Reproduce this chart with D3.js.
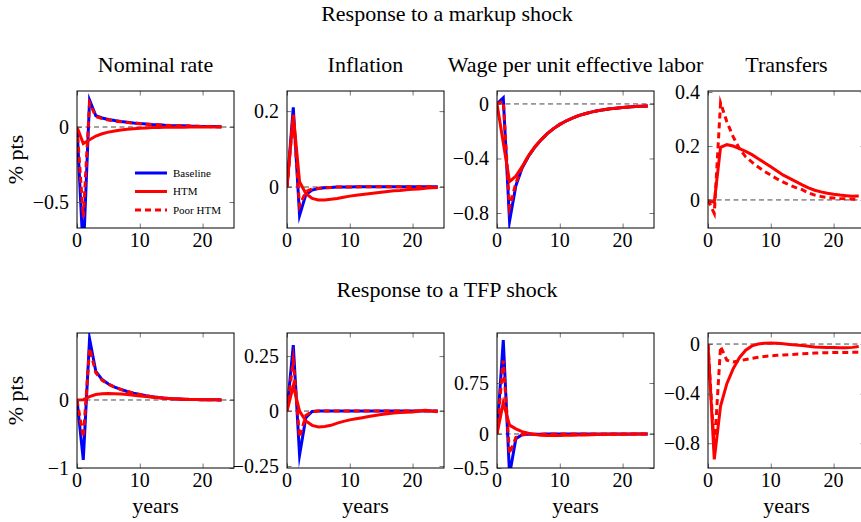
<!DOCTYPE html>
<html>
<head>
<meta charset="utf-8">
<script src="https://cdn.jsdelivr.net/npm/d3@7"></script>
<style>
  html, body { margin: 0; padding: 0; background: #fff; }
  svg { display: block; }
  text { font-family: "Liberation Serif", "Times New Roman", serif; fill: #000; }
</style>
</head>
<body>
<svg id="chart" width="861" height="522"></svg>
<script>
// ---------------- DATA ----------------
const periods23 = [0,1,2,3,4,5,6,7,8,9,10,11,12,13,14,15,16,17,18,19,20,21,22,23];
const periods24 = [0,1,2,3,4,5,6,7,8,9,10,11,12,13,14,15,16,17,18,19,20,21,22,23,24];

const seriesNames = ["Baseline", "HTM", "Poor HTM"];
const rowTitles = ["Response to a markup shock", "Response to a TFP shock"];
const panelTitles = ["Nominal rate", "Inflation", "Wage per unit effective labor", "Transfers"];

// Markup shock
const markupNominalBaseline = [0,-0.85,0.18,0.075,0.06,0.05,0.043,0.037,0.032,0.027,0.023,0.02,0.017,0.015,0.012,0.01,0.009,0.008,0.006,0.005,0.004,0.003,0.003,0.002];
const markupNominalHTM      = [0,-0.11,-0.085,-0.06,-0.045,-0.034,-0.026,-0.02,-0.015,-0.011,-0.008,-0.006,-0.004,-0.003,-0.002,-0.0015,-0.001,-0.001,0,0,0,0,0,0];
const markupNominalPoor     = [0,-0.6,0.16,0.07,0.056,0.047,0.04,0.035,0.03,0.026,0.022,0.019,0.016,0.014,0.012,0.01,0.008,0.007,0.006,0.005,0.004,0.003,0.002,0.002];

const markupInflBaseline = [0,0.21,-0.075,-0.02,-0.008,-0.004,-0.002,-0.001,0,0,0,0.001,0.001,0.001,0.001,0.001,0.001,0.001,0.001,0.001,0.001,0.001,0.001,0.001,0.001];
const markupInflHTM      = [0,0.19,0.014,-0.017,-0.03,-0.034,-0.034,-0.032,-0.03,-0.027,-0.024,-0.022,-0.02,-0.018,-0.016,-0.014,-0.012,-0.01,-0.009,-0.007,-0.006,-0.005,-0.003,-0.002,-0.001];
const markupInflPoor     = [0,0.19,-0.05,-0.012,-0.005,-0.003,-0.002,-0.001,0,0,0,0,0.001,0.001,0.001,0.001,0.001,0.001,0.001,0.001,0.001,0.001,0.001,0.001,0];

const markupWageBaseline = [0,0.045,-0.86,-0.6,-0.47,-0.385,-0.318,-0.264,-0.218,-0.181,-0.15,-0.125,-0.104,-0.086,-0.072,-0.06,-0.05,-0.042,-0.036,-0.031,-0.026,-0.022,-0.019,-0.017,-0.015];
const markupWageHTM      = [0,-0.285,-0.57,-0.53,-0.46,-0.38,-0.316,-0.263,-0.218,-0.181,-0.15,-0.125,-0.104,-0.086,-0.072,-0.06,-0.05,-0.042,-0.036,-0.031,-0.026,-0.022,-0.019,-0.017,-0.015];
const markupWagePoor     = [0,0.02,-0.76,-0.58,-0.465,-0.383,-0.317,-0.264,-0.218,-0.181,-0.15,-0.125,-0.104,-0.086,-0.072,-0.06,-0.05,-0.042,-0.036,-0.031,-0.026,-0.022,-0.019,-0.017,-0.015];

const markupTransHTM  = [-0.005,-0.008,0.195,0.205,0.2,0.19,0.18,0.168,0.153,0.138,0.123,0.107,0.092,0.08,0.068,0.056,0.045,0.036,0.03,0.025,0.021,0.018,0.016,0.014,0.015];
const markupTransPoor = [0,-0.05,0.36,0.29,0.235,0.19,0.16,0.14,0.122,0.106,0.092,0.078,0.066,0.055,0.046,0.038,0.026,0.018,0.013,0.009,0.007,0.005,0.004,0.003,0.002];

// TFP shock
const tfpNominalBaseline = [0,-0.88,0.9,0.42,0.3,0.235,0.19,0.155,0.125,0.1,0.08,0.062,0.048,0.036,0.027,0.02,0.015,0.011,0.008,0.006,0.004,0.003,0.002,0.001];
const tfpNominalHTM      = [0,0.005,0.05,0.08,0.092,0.095,0.093,0.088,0.08,0.07,0.06,0.05,0.041,0.033,0.026,0.02,0.015,0.011,0.008,0.006,0.004,0.003,0.002,0.001];
const tfpNominalPoor     = [0,-0.55,0.76,0.4,0.29,0.23,0.187,0.153,0.124,0.1,0.08,0.062,0.048,0.036,0.027,0.02,0.015,0.011,0.008,0.006,0.004,0.003,0.002,0.001];

const tfpInflBaseline = [0,0.3,-0.2,-0.03,-0.002,0,0,0,0,0,0,0,0,0,0,0,0,0,0,0,0,0,0,0,0];
const tfpInflHTM      = [0,0.115,0,-0.045,-0.065,-0.072,-0.07,-0.065,-0.055,-0.047,-0.04,-0.035,-0.03,-0.025,-0.02,-0.016,-0.012,-0.009,-0.007,-0.005,-0.004,0,0.004,0,-0.003];
const tfpInflPoor     = [0,0.23,-0.12,-0.02,-0.002,0,0,0,0,0,0,0,0,0,0,0,0,0,0,0,0,0,0,0,0];

const tfpWageBaseline = [0,1.38,-0.6,-0.07,-0.012,-0.005,-0.003,-0.002,-0.001,0,0,0,0,0,0,0,0,0,0,0,0,0,0,0,0];
const tfpWageHTM      = [0,0.46,0.13,0.075,0.035,0.01,-0.008,-0.018,-0.022,-0.023,-0.022,-0.02,-0.018,-0.016,-0.013,-0.011,-0.009,-0.007,-0.005,-0.004,-0.003,-0.002,-0.001,-0.001,0];
const tfpWagePoor     = [0,1.08,-0.29,-0.05,-0.01,-0.004,-0.003,-0.002,-0.001,0,0,0,0,0,0,0,0,0,0,0,0,0,0,0,0];

const tfpTransHTM  = [0,-0.93,-0.5,-0.32,-0.2,-0.11,-0.05,-0.015,0,0.006,0.008,0.006,0.002,-0.003,-0.007,-0.012,-0.018,-0.024,-0.026,-0.027,-0.028,-0.029,-0.03,-0.027,-0.02];
const tfpTransPoor = [0,-0.85,-0.02,-0.13,-0.145,-0.135,-0.125,-0.115,-0.107,-0.1,-0.095,-0.091,-0.088,-0.085,-0.082,-0.079,-0.076,-0.073,-0.071,-0.07,-0.069,-0.068,-0.068,-0.067,-0.067];

// Axis settings (domains and tick values)
const xTicks = [0, 10, 20];
const yTicks = [[0,-0.5],[0,0.2],[0,-0.4,-0.8],[0,0.2,0.4],[0,-1],[-0.25,0,0.25],[-0.5,0,0.75],[0,-0.4,-0.8]];
const yDomains = [[-0.673,0.24],[-0.108,0.253],[-0.91,0.095],[-0.104,0.404],[-1,0.985],[-0.259,0.355],[-0.5,1.485],[-1,0.089]];
const yTickLabels = [["0","−0.5"],["0","0.2"],["0","−0.4","−0.8"],["0","0.2","0.4"],["0","−1"],["−0.25","0","0.25"],["−0.5","0","0.75"],["0","−0.4","−0.8"]];

// ---------------- LAYOUT ----------------
const svg = d3.select("#chart");
const colX = [77, 287, 497, 708];
const pw = 157;
const rowY = [91, 333];
const rowH = [137, 135];
const colors = { Baseline: "#0000ff", HTM: "#ff0000", "Poor HTM": "#ff0000" };

const panels = [
  { row:0, col:0, t:periods23, series:[["Baseline",markupNominalBaseline],["HTM",markupNominalHTM],["Poor HTM",markupNominalPoor]] },
  { row:0, col:1, t:periods24, series:[["Baseline",markupInflBaseline],["HTM",markupInflHTM],["Poor HTM",markupInflPoor]] },
  { row:0, col:2, t:periods24, series:[["Baseline",markupWageBaseline],["HTM",markupWageHTM],["Poor HTM",markupWagePoor]] },
  { row:0, col:3, t:periods24, series:[["HTM",markupTransHTM],["Poor HTM",markupTransPoor]] },
  { row:1, col:0, t:periods23, series:[["Baseline",tfpNominalBaseline],["HTM",tfpNominalHTM],["Poor HTM",tfpNominalPoor]] },
  { row:1, col:1, t:periods24, series:[["Baseline",tfpInflBaseline],["HTM",tfpInflHTM],["Poor HTM",tfpInflPoor]] },
  { row:1, col:2, t:periods24, series:[["Baseline",tfpWageBaseline],["HTM",tfpWageHTM],["Poor HTM",tfpWagePoor]] },
  { row:1, col:3, t:periods24, series:[["HTM",tfpTransHTM],["Poor HTM",tfpTransPoor]] }
];

// Row titles
svg.append("text").attr("x", 447).attr("y", 21).attr("text-anchor","middle").attr("font-size", 22).text(rowTitles[0]);
svg.append("text").attr("x", 447).attr("y", 297).attr("text-anchor","middle").attr("font-size", 22).text(rowTitles[1]);

const defs = svg.append("defs");

panels.forEach((p, i) => {
  const x0 = colX[p.col], y0 = rowY[p.row], h = rowH[p.row];
  const x = d3.scaleLinear().domain([0, 25]).range([x0, x0 + pw]);
  const y = d3.scaleLinear().domain(yDomains[i]).range([y0 + h, y0]);

  const clipId = "clip" + i;
  defs.append("clipPath").attr("id", clipId)
    .append("rect").attr("x", x0).attr("y", y0).attr("width", pw).attr("height", h);

  const g = svg.append("g");

  // zero line
  g.append("line").attr("clip-path", `url(#${clipId})`)
    .attr("x1", x0).attr("x2", x0 + pw).attr("y1", y(0)).attr("y2", y(0))
    .attr("stroke", "#444").attr("stroke-width", 1).attr("stroke-dasharray", "5,3.5");

  // series
  const line = d3.line().x((d, k) => x(p.t[k])).y(d => y(d));
  const plotG = g.append("g").attr("clip-path", `url(#${clipId})`);
  p.series.forEach(([name, vals]) => {
    plotG.append("path").datum(vals)
      .attr("d", line).attr("fill", "none")
      .attr("stroke", colors[name]).attr("stroke-width", 3)
      .attr("stroke-linejoin", "miter").attr("stroke-miterlimit", 10)
      .attr("stroke-dasharray", name === "Poor HTM" ? "6,4" : null);
  });

  // axes: ticks inward on all sides
  const tl = 4.5;
  const axB = d3.axisBottom(x).tickValues(xTicks).tickSizeInner(-tl).tickSizeOuter(0).tickFormat("");
  const axT = d3.axisTop(x).tickValues(xTicks).tickSizeInner(-tl).tickSizeOuter(0).tickFormat("");
  const axL = d3.axisLeft(y).tickValues(yTicks[i]).tickSizeInner(-tl).tickSizeOuter(0).tickFormat("");
  const axR = d3.axisRight(y).tickValues(yTicks[i]).tickSizeInner(-tl).tickSizeOuter(0).tickFormat("");
  [[axB, `translate(0,${y0 + h})`], [axT, `translate(0,${y0})`], [axL, `translate(${x0},0)`], [axR, `translate(${x0 + pw},0)`]].forEach(([ax, tr]) => {
    const a = g.append("g").attr("transform", tr).call(ax);
    a.select(".domain").remove();
    a.selectAll(".tick line").attr("stroke", "#555").attr("stroke-width", 0.8);
  });

  // frame
  g.append("rect").attr("x", x0).attr("y", y0).attr("width", pw).attr("height", h)
    .attr("fill", "none").attr("stroke", "#000").attr("stroke-width", 1);

  // tick labels
  xTicks.forEach(v => {
    g.append("text").attr("x", x(v)).attr("y", y0 + h + 19).attr("text-anchor", "middle")
      .attr("font-size", 20).text(String(v));
  });
  yTicks[i].forEach((v, k) => {
    g.append("text").attr("x", x0 - 8).attr("y", y(v)).attr("dy", "0.34em").attr("text-anchor", "end")
      .attr("font-size", 20).text(yTickLabels[i][k]);
  });

  // panel title (top row) / x label (bottom row)
  if (p.row === 0) {
    g.append("text").attr("x", x0 + pw / 2).attr("y", 72).attr("text-anchor", "middle")
      .attr("font-size", 22).text(panelTitles[p.col]);
  } else {
    g.append("text").attr("x", x0 + pw / 2).attr("y", 513).attr("text-anchor", "middle")
      .attr("font-size", 22).text("years");
  }

  // y label
  if (p.col === 0) {
    g.append("text").attr("transform", `translate(23,${y0 + h / 2}) rotate(-90)`)
      .attr("text-anchor", "middle").attr("font-size", 22).text("% pts");
  }

  // legend in first panel
  if (i === 0) {
    const ly = [82, 100.5, 119];
    seriesNames.forEach((name, k) => {
      g.append("line").attr("x1", x0 + 58).attr("x2", x0 + 90).attr("y1", y0 + ly[k]).attr("y2", y0 + ly[k])
        .attr("stroke", colors[name]).attr("stroke-width", 3)
        .attr("stroke-dasharray", name === "Poor HTM" ? "6,4" : null);
      g.append("text").attr("x", x0 + 96).attr("y", y0 + ly[k]).attr("dy", "0.35em")
        .attr("font-size", 11).text(name);
    });
  }
});
</script>
</body>
</html>
